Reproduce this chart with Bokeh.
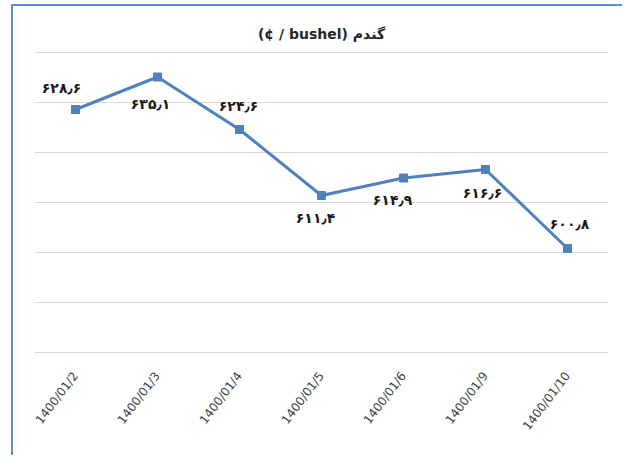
from bokeh.plotting import figure
from bokeh.models import ColumnDataSource, Range1d, FactorRange, FixedTicker
from bokeh.core.properties import value
from bokeh.embed import file_html
from bokeh.resources import INLINE

# ---- data ----
dates = ["1400/01/2", "1400/01/3", "1400/01/4", "1400/01/5",
         "1400/01/6", "1400/01/9", "1400/01/10"]
prices = [628.6, 635.1, 624.6, 611.4, 614.9, 616.6, 600.8]
y_ticks = [580, 590, 600, 610, 620, 630, 640]
title_text = "(¢ / bushel) گندم"

# label placement (screen px, relative to each marker)
label_dx = [-14, -7, -1, -6, -11, -3, 2]
label_dy = [-22, 27, -24, 22, 22, 23, -25]

fa_digits = str.maketrans("0123456789.", "۰۱۲۳۴۵۶۷۸۹٫")
labels = [f"{v:.1f}".translate(fa_digits) for v in prices]

src = ColumnDataSource(dict(x=dates, y=prices, lab=labels,
                            dx=label_dx, dy=label_dy))

BLUE = "#4F81BD"

p = figure(width=611, height=451, x_range=FactorRange(*dates, range_padding=0),
           y_range=Range1d(580, 640.2), output_backend="svg",
           toolbar_location=None, tools="")
p.margin = (4, 0, 0, 11)
p.styles = {"border-top": "2px solid #5B8ED2", "border-left": "2px solid #5B8ED2"}

p.min_border_left = 21
p.min_border_right = 16
p.min_border_top = 45
p.min_border_bottom = 105
p.outline_line_color = None
p.background_fill_color = "white"
p.border_fill_color = "white"

p.title.text = title_text
p.title.align = "center"
p.title.text_font = "DejaVu Sans"
p.title.text_font_size = "14px"
p.title.text_font_style = "bold"
p.title.text_color = "#262626"
p.title.standoff = 20

p.yaxis.visible = False
p.ygrid.ticker = FixedTicker(ticks=y_ticks)
p.ygrid.grid_line_color = "#D9D9D9"
p.xgrid.grid_line_color = None

p.xaxis.axis_line_color = "#D9D9D9"
p.xaxis.major_tick_line_color = None
p.xaxis.minor_tick_line_color = None
p.xaxis.major_label_orientation = 0.92
p.xaxis.major_label_text_font = "DejaVu Sans"
p.xaxis.major_label_text_font_size = "12px"
p.xaxis.major_label_text_color = "#404040"
p.xaxis.major_label_standoff = 15

p.line("x", "y", source=src, line_color=BLUE, line_width=3)
p.scatter("x", "y", source=src, marker="square", size=8,
          fill_color=BLUE, line_color=BLUE)
p.text("x", "y", text="lab", source=src, x_offset="dx", y_offset="dy",
       text_align="center", text_baseline="middle",
       text_font=value("DejaVu Sans"), text_font_style="bold",
       text_font_size="14px", text_color="#1a1a1a")

open("out.html", "w").write(file_html(p, INLINE))
